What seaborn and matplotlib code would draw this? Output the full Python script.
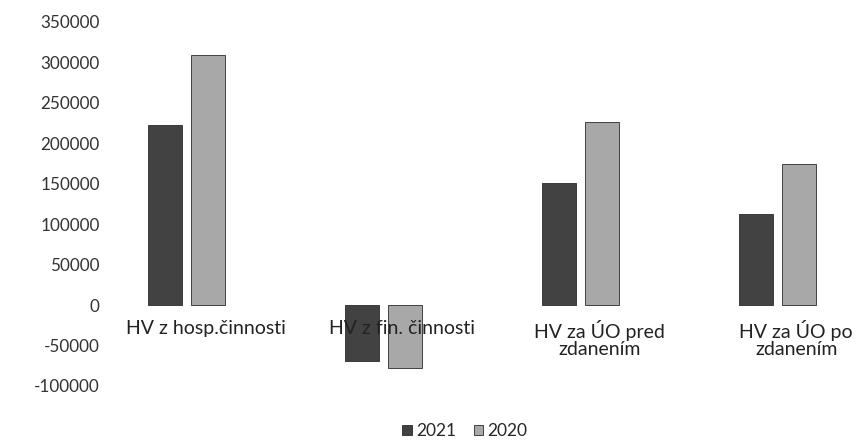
import numpy as np
import pandas as pd
import seaborn as sns
import matplotlib.pyplot as plt
import matplotlib.transforms as mtransforms

#%% Data
categories  = ['HV z hosp.činnosti', 'HV z fin. činnosti', 'HV za ÚO pred\nzdanením', 'HV za ÚO po\nzdanením']
years       = ['2021', '2020']
vals_2021   = [223000, -69000, 151000, 113000]
vals_2020   = [309000, -78000, 226000, 174000]
yticks      = np.arange(-100000, 350001, 50000)

df = pd.DataFrame({'kategoria': categories * 2,
                   'hodnota': vals_2021 + vals_2020,
                   'rok': [years[0]] * 4 + [years[1]] * 4})

#%% Plot
sns.set_style('white')
plt.rcParams['font.family'] = ['Lato', 'DejaVu Sans']

fig = plt.figure(figsize=(8.6, 4.42), dpi=100)
ax = fig.add_axes([88/860, 1-386/442, 1-88/860, (386-22)/442])

sns.barplot(data=df, x='kategoria', y='hodnota', hue='rok', order=categories, hue_order=years,
            palette=['#424242', '#a8a8a8'], width=0.44, gap=0.22, saturation=1,
            edgecolor='#2a2a2a', linewidth=0.6, ax=ax, legend=True)

ax.set_xlim(-0.5, 3.42)
ax.set_ylim(-100000, 350000)
ax.set_yticks(yticks)
ax.set_yticklabels([str(v) for v in yticks], fontsize=12.3, color='#333333')
ax.set_xlabel('')
ax.set_ylabel('')

# category labels sit on the zero line like in Excel, drawn over the bars
ax.set_axisbelow(False)
ax.spines['bottom'].set_position(('data', 0))
sns.despine(ax=ax, left=True, bottom=True)
ax.tick_params(axis='both', length=0)
ax.tick_params(axis='x', pad=11)
ax.tick_params(axis='y', pad=-8.5)
offset = mtransforms.ScaledTranslation(0.19, 0, fig.dpi_scale_trans)
for lab in ax.get_xticklabels():
    lab.set_fontsize(14)
    lab.set_color('#222222')
    lab.set_linespacing(1.0)
    lab.set_transform(lab.get_transform() + offset)

handles, labels = ax.get_legend_handles_labels()
ax.get_legend().remove()
fig.legend(handles, labels, loc='center', bbox_to_anchor=(465/860, 1-431/442), ncol=2,
           frameon=False, fontsize=12.5, handlelength=0.55, handleheight=0.55,
           handletextpad=0.25, columnspacing=1.0, borderpad=0)

fig.savefig('out.png', dpi=100)
